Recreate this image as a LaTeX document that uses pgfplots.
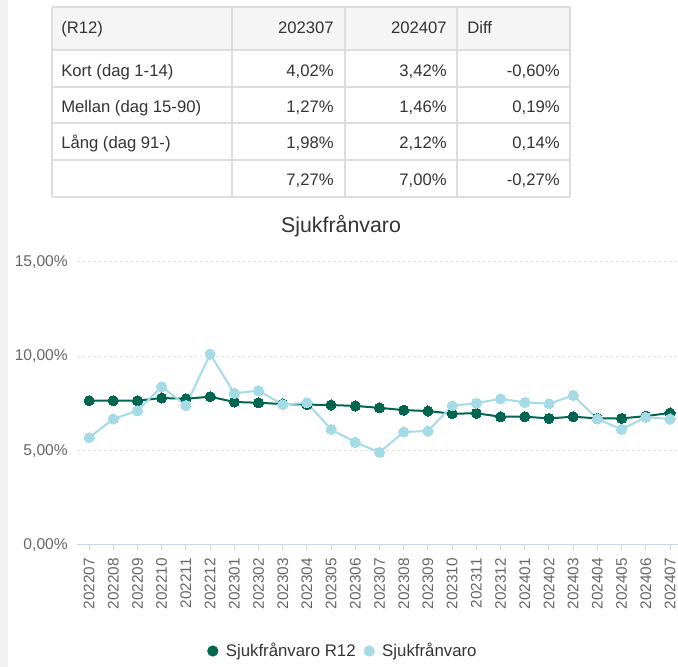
\documentclass[border=0pt]{standalone}
\usepackage{pgfplots}
\pgfplotsset{compat=1.18}
\usepackage{pgfplotstable}
\usepackage{fontspec}
\setmainfont{Liberation Sans}
\definecolor{dg}{HTML}{00664F}
\definecolor{lb}{HTML}{A5DAE7}
\definecolor{txt}{HTML}{333333}
\definecolor{lab}{HTML}{666666}
\definecolor{gridc}{HTML}{E0E0E0}
\definecolor{axl}{HTML}{CCD6EB}
\definecolor{tbl}{HTML}{DDDDDD}
\definecolor{hdr}{HTML}{F5F5F5}
\definecolor{shadow}{HTML}{F2F2F2}

\pgfplotstableread{
x lab r12 s
0 202207 7.65 5.69
1 202208 7.65 6.68
2 202209 7.65 7.12
3 202210 7.79 8.39
4 202211 7.75 7.40
5 202212 7.86 10.12
6 202301 7.58 8.04
7 202302 7.54 8.18
8 202303 7.47 7.44
9 202304 7.44 7.54
10 202305 7.42 6.13
11 202306 7.37 5.44
12 202307 7.27 4.91
13 202308 7.15 5.99
14 202309 7.10 6.04
15 202310 6.96 7.38
16 202311 6.98 7.52
17 202312 6.80 7.75
18 202401 6.80 7.56
19 202402 6.71 7.49
20 202403 6.80 7.93
21 202404 6.71 6.68
22 202405 6.71 6.13
23 202406 6.83 6.77
24 202407 7.00 6.68
}\data

\begin{document}
\begin{tikzpicture}
\path[use as bounding box] (0,0) rectangle (508.5pt,500.25pt);
\begin{scope}[x=0.75pt,y=0.75pt]
  % left shadow strip
  \fill[shadow] (0,0) rectangle (8,667);
  % table
  \fill[hdr] (52,660) rectangle (570,617);
  \draw[tbl, line width=1pt] (52,660) -- (570,660);
  \foreach \yy in {617,580,544,507,470} {\draw[tbl, line width=1.5pt] (52,\yy) -- (570,\yy);}
  \foreach \xx in {52,232,345,457,570} {\draw[tbl, line width=1pt] (\xx,660) -- (\xx,470);}
  \begin{scope}[every node/.style={font=\fontsize{12.5}{15}\selectfont, text=txt, inner sep=0pt}]
    \node[anchor=base west] at (61,633) {(R12)};
    \node[anchor=base east] at (334,633) {202307};
    \node[anchor=base east] at (447,633) {202407};
    \node[anchor=base west] at (467,633) {Diff};
    \node[anchor=base west] at (61,590) {Kort (dag 1-14)};
    \node[anchor=base east] at (334,590) {4,02\%};
    \node[anchor=base east] at (447,590) {3,42\%};
    \node[anchor=base east] at (560,590) {-0,60\%};
    \node[anchor=base west] at (61,554) {Mellan (dag 15-90)};
    \node[anchor=base east] at (334,554) {1,27\%};
    \node[anchor=base east] at (447,554) {1,46\%};
    \node[anchor=base east] at (560,554) {0,19\%};
    \node[anchor=base west] at (61,518) {Lång (dag 91-)};
    \node[anchor=base east] at (334,518) {1,98\%};
    \node[anchor=base east] at (447,518) {2,12\%};
    \node[anchor=base east] at (560,518) {0,14\%};
    \node[anchor=base east] at (334,481) {7,27\%};
    \node[anchor=base east] at (447,481) {7,00\%};
    \node[anchor=base east] at (560,481) {-0,27\%};
  \end{scope}
  \node[font=\fontsize{16}{19}\selectfont, text=txt] at (341,441) {Sjukfrånvaro};
\end{scope}
\begin{axis}[
  at={(57.75pt,91.5pt)}, anchor=south west,
  width=450.75pt, height=212.25pt, scale only axis,
  xmin=-0.5, xmax=24.33, ymin=0, ymax=15,
  axis x line*=bottom, axis y line*=left,
  y axis line style={draw=none},
  x axis line style={draw=axl, line width=0.75pt, -},
  ytick={0,5,10,15},
  yticklabels={{0,00\%},{5,00\%},{10,00\%},{15,00\%}},
  ymajorgrids,
  grid style={draw=gridc, line width=0.75pt, dash pattern=on 2pt off 2pt},
  xtick={0,...,24},
  xticklabels from table={\data}{lab},
  xticklabel style={rotate=90, anchor=east, font=\fontsize{11.5}{13}\selectfont, text=lab, inner sep=0pt},
  xticklabel shift=6pt,
  yticklabel style={font=\fontsize{11.7}{14}\selectfont, text=lab, inner sep=0pt, xshift=-3pt},
  tick align=outside,
  major tick length=3.75pt,
  xtick style={draw=axl, line width=0.75pt},
  ytick style={draw=none},
  clip=false,
  legend style={at={(0.443,-0.3746)}, anchor=center, draw=none, fill=none,
    legend columns=2, font=\fontsize{12.6}{15}\selectfont, text=txt,
    /tikz/every even column/.append style={column sep=4pt}},
  legend image code/.code={\fill[#1] (0pt,0pt) circle (3.4pt); \path[draw=none,fill=none] (-3.4pt,0pt) rectangle (7.8pt,0.1pt);},
]
\addplot[dg, line width=1.5pt, mark=*, mark size=3.8pt, mark options={fill=dg, draw=dg, line width=0pt}] table[x=x,y=r12]{\data};
\addplot[lb, line width=1.5pt, mark=*, mark size=3.8pt, mark options={fill=lb, draw=lb, line width=0pt}] table[x=x,y=s]{\data};
\legend{Sjukfrånvaro R12, Sjukfrånvaro}
\end{axis}
\end{tikzpicture}
\end{document}
